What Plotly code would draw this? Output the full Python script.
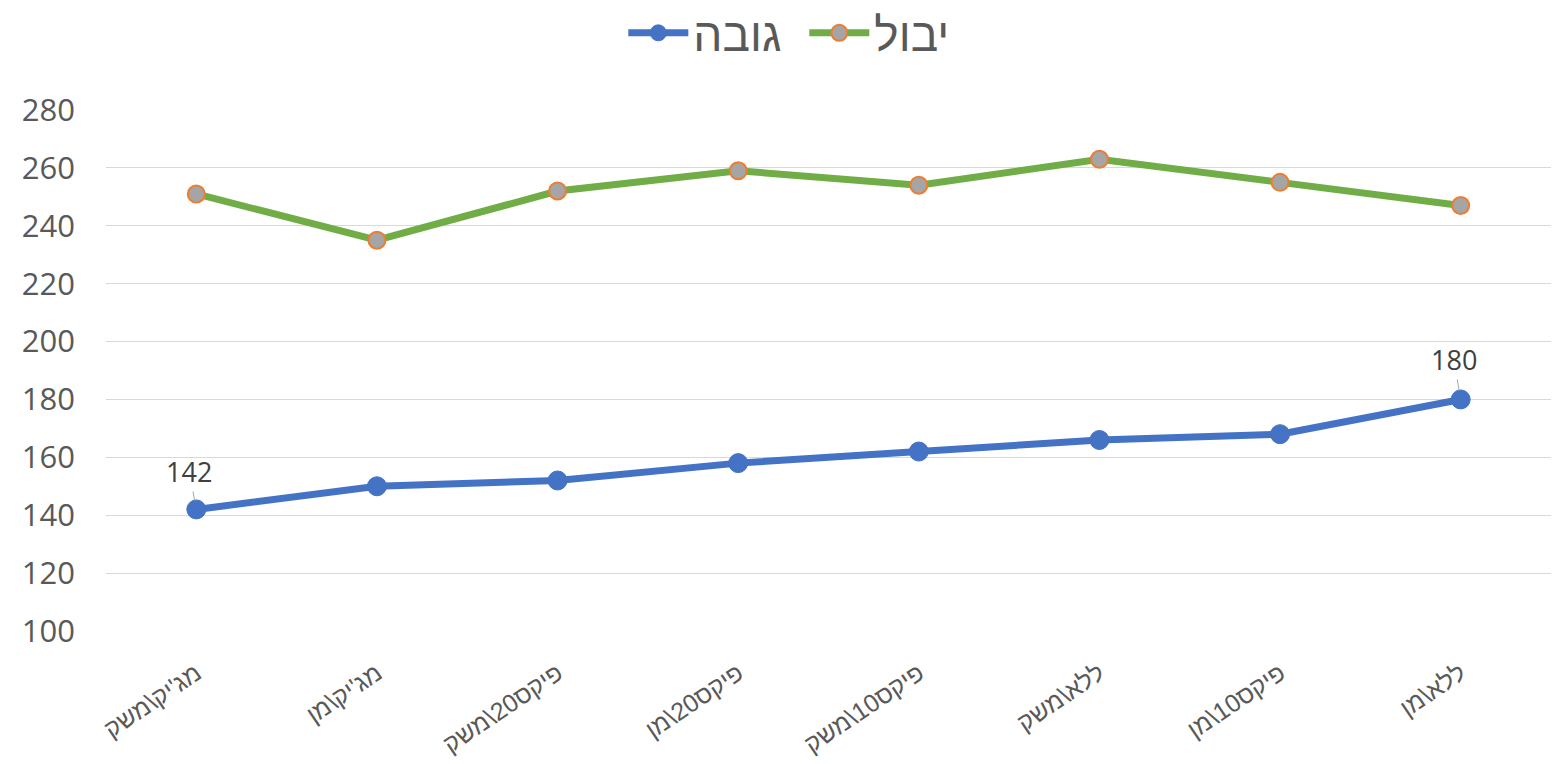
import plotly.graph_objects as go

categories = ["מג'יק\\משק", "מג'יק\\מן", "פיקס20\\משק", "פיקס20\\מן",
              "פיקס10\\משק", "ללא\\משק", "פיקס10\\מן", "ללא\\מן"]
height_name = "גובה"
yield_name = "יבול"
height_vals = [142, 150, 152, 158, 162, 166, 168, 180]
yield_vals = [251, 235, 252, 259, 254, 263, 255, 247]
y_ticks = [100, 120, 140, 160, 180, 200, 220, 240, 260, 280]

FONT = "Open Sans, Liberation Sans, DejaVu Sans, sans-serif"
HEB = "Liberation Sans, DejaVu Sans, sans-serif"

fig = go.Figure()
fig.add_trace(go.Scatter(
    x=categories, y=height_vals, name=height_name, mode="lines+markers",
    line=dict(color="#4472C4", width=7),
    marker=dict(color="#4472C4", size=19, line=dict(color="#4472C4", width=1)),
))
fig.add_trace(go.Scatter(
    x=categories, y=yield_vals, name=yield_name, mode="lines+markers",
    line=dict(color="#70AD47", width=7),
    marker=dict(color="#A5A5A5", size=17, line=dict(color="#ED7D31", width=2)),
))

# data labels for first and last height values
for idx, (dx, dy) in [(0, (-7, -38)), (len(categories) - 1, (-7, -40))]:
    fig.add_annotation(
        x=categories[idx], y=height_vals[idx], text=str(height_vals[idx]),
        showarrow=True, arrowhead=0, arrowwidth=1, arrowcolor="#A6A6A6",
        ax=dx, ay=dy, standoff=9, startstandoff=0,
        font=dict(family=FONT, size=27, color="#404040"),
    )

fig.update_layout(
    width=1546, height=756,
    margin=dict(l=98, r=3, t=102, b=133),
    paper_bgcolor="white", plot_bgcolor="white",
    font=dict(family=FONT, color="#595959"),
    showlegend=True,
    legend=dict(
        orientation="h", xref="container", yref="container",
        x=0.398, xanchor="left", y=0.967, yanchor="middle",
        font=dict(family=HEB, size=46, color="#595959"), itemwidth=60,
        entrywidth=106, entrywidthmode="pixels",
        traceorder="normal",
    ),
    xaxis=dict(
        type="category", range=[-0.5, len(categories) - 0.5],
        tickangle=-34, showgrid=False, showline=False,
        ticks="", tickfont=dict(family=HEB, size=25, color="#595959"),
        ticklabelstandoff=22, automargin=False,
    ),
    yaxis=dict(
        range=[100, 280], tickvals=y_ticks, showgrid=True, gridcolor="#D9D9D9",
        gridwidth=1, zeroline=False, showline=False, ticks="",
        tickfont=dict(size=31, color="#595959"),
        ticklabelstandoff=30, automargin=False,
    ),
)

fig.write_html("out.html")
